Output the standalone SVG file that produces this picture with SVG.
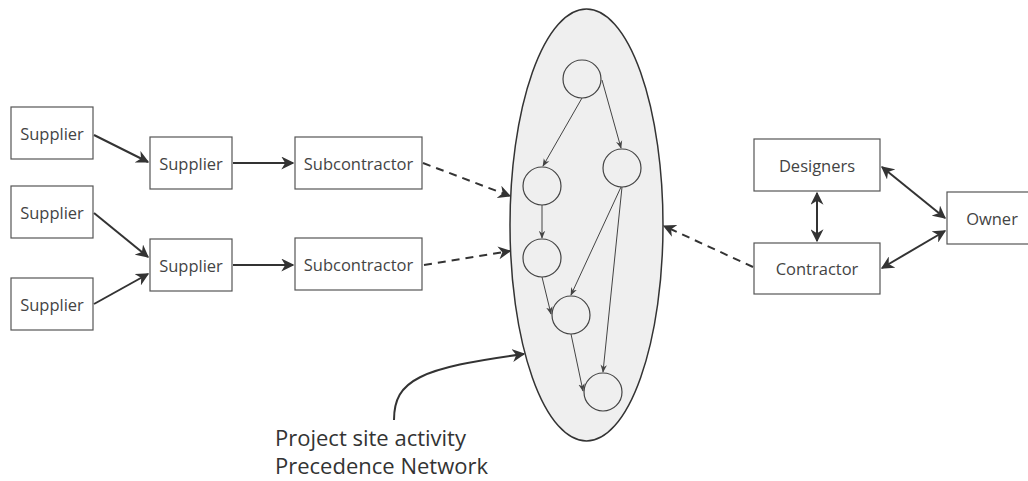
<svg xmlns="http://www.w3.org/2000/svg" width="1028" height="481" viewBox="0 0 1028 481">
  <style>
    .box { fill: #ffffff; stroke: #555555; stroke-width: 1.2; }
    .lbl { font-family: "Open Sans", "Liberation Sans", sans-serif; font-size: 16.5px; fill: #444444; text-anchor: middle; dominant-baseline: central; }
    .note { font-family: "Open Sans", "Liberation Sans", sans-serif; font-size: 22px; fill: #333333; }
    .solid { fill: none; stroke: #333333; stroke-width: 2; }
    .dash { fill: none; stroke: #333333; stroke-width: 2; stroke-dasharray: 8 6; }
    .thin { fill: none; stroke: #444444; stroke-width: 1; }
    .act { fill: #efefef; stroke: #444444; stroke-width: 1.2; }
  </style>
  <defs>
    <marker id="ah" viewBox="0 0 10 10" refX="9" refY="5" markerWidth="6.5" markerHeight="6.5" orient="auto-start-reverse" markerUnits="strokeWidth">
      <path d="M0,0 L10,5 L0,10 L3,5 z" fill="#333333"/>
    </marker>
    <marker id="ahs" viewBox="0 0 10 10" refX="9" refY="5" markerWidth="8" markerHeight="8" orient="auto" markerUnits="strokeWidth">
      <path d="M0,1 L10,5 L0,9 L3,5 z" fill="#444444"/>
    </marker>
  </defs>

  <!-- site activity network -->
  <g id="site">
    <ellipse cx="586.5" cy="225" rx="76.5" ry="216" fill="#efefef" stroke="#333333" stroke-width="1.5"/>
    <g id="a1"><circle class="act" cx="582" cy="79" r="19"/></g>
    <g id="a2"><circle class="act" cx="542" cy="186" r="19"/></g>
    <g id="a3"><circle class="act" cx="622" cy="168" r="19"/></g>
    <g id="a4"><circle class="act" cx="542" cy="258" r="19"/></g>
    <g id="a5"><circle class="act" cx="571" cy="315" r="19"/></g>
    <g id="a6"><circle class="act" cx="603" cy="392" r="19"/></g>
    <g id="site-links">
      <line class="thin" x1="582" y1="98" x2="543" y2="166" marker-end="url(#ahs)"/>
      <line class="thin" x1="602" y1="80" x2="621" y2="148" marker-end="url(#ahs)"/>
      <line class="thin" x1="542" y1="205" x2="542" y2="238" marker-end="url(#ahs)"/>
      <line class="thin" x1="621" y1="187" x2="571" y2="295" marker-end="url(#ahs)"/>
      <line class="thin" x1="622" y1="187" x2="603" y2="372" marker-end="url(#ahs)"/>
      <line class="thin" x1="542" y1="277" x2="551" y2="314" marker-end="url(#ahs)"/>
      <line class="thin" x1="571" y1="334" x2="583" y2="391" marker-end="url(#ahs)"/>
    </g>
  </g>

  <!-- nodes -->
  <g id="supplier-1"><rect class="box" x="11" y="107" width="82" height="52"/><text class="lbl" x="52" y="133">Supplier</text></g>
  <g id="supplier-2"><rect class="box" x="11" y="186" width="82" height="52"/><text class="lbl" x="52" y="212">Supplier</text></g>
  <g id="supplier-3"><rect class="box" x="11" y="278" width="82" height="52"/><text class="lbl" x="52" y="304">Supplier</text></g>
  <g id="supplier-4"><rect class="box" x="150" y="137" width="82" height="52"/><text class="lbl" x="191" y="163">Supplier</text></g>
  <g id="supplier-5"><rect class="box" x="150" y="239" width="82" height="52"/><text class="lbl" x="191" y="265">Supplier</text></g>
  <g id="subcontractor-1"><rect class="box" x="295" y="137" width="127" height="52"/><text class="lbl" x="358.5" y="163">Subcontractor</text></g>
  <g id="subcontractor-2"><rect class="box" x="295" y="238" width="127" height="52"/><text class="lbl" x="358.5" y="264">Subcontractor</text></g>
  <g id="designers"><rect class="box" x="754" y="139" width="126" height="52"/><text class="lbl" x="817" y="165">Designers</text></g>
  <g id="contractor"><rect class="box" x="754" y="243" width="126" height="51"/><text class="lbl" x="817" y="268.5">Contractor</text></g>
  <g id="owner"><rect class="box" x="947" y="192" width="90" height="52"/><text class="lbl" x="992" y="218">Owner</text></g>

  <!-- connectors -->
  <g id="connectors">
    <line class="solid" x1="94" y1="135" x2="148" y2="162" marker-end="url(#ah)"/>
    <line class="solid" x1="94" y1="213" x2="148" y2="257" marker-end="url(#ah)"/>
    <line class="solid" x1="94" y1="304" x2="148" y2="274" marker-end="url(#ah)"/>
    <line class="solid" x1="233" y1="163" x2="293" y2="163" marker-end="url(#ah)"/>
    <line class="solid" x1="233" y1="265" x2="293" y2="265" marker-end="url(#ah)"/>
    <line class="dash" x1="423" y1="163" x2="510" y2="196" marker-end="url(#ah)"/>
    <line class="dash" x1="424" y1="265" x2="510" y2="251" marker-end="url(#ah)"/>
    <line class="dash" x1="753" y1="267" x2="664" y2="226" marker-end="url(#ah)"/>
    <line class="solid" x1="817" y1="193" x2="817" y2="241" marker-start="url(#ah)" marker-end="url(#ah)"/>
    <line class="solid" x1="882" y1="167" x2="945" y2="218" marker-start="url(#ah)" marker-end="url(#ah)"/>
    <line class="solid" x1="882" y1="268" x2="945" y2="231" marker-start="url(#ah)" marker-end="url(#ah)"/>
    <path class="solid" d="M394 420 C394 380 420 368 524 354" marker-end="url(#ah)"/>
  </g>

  <g id="caption">
    <text class="note" x="275" y="446">Project site activity</text>
    <text class="note" x="275" y="474">Precedence Network</text>
  </g>
</svg>
